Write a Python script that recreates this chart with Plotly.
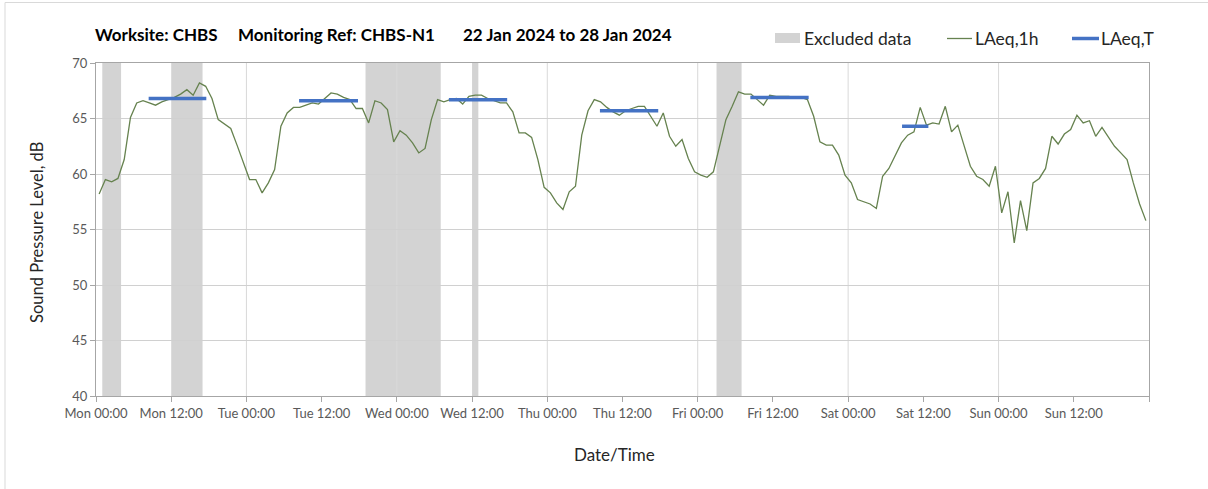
import pandas as pd
import plotly.graph_objects as go

# Hourly LAeq,1h values (dB), one per hour from Mon 22 Jan 2024 00:00
laeq_1h = [
    58.2, 59.5, 59.3, 59.6, 61.3, 65.1, 66.4, 66.6, 66.4, 66.2,
    66.5, 66.7, 66.9, 67.2, 67.6, 67.1, 68.2, 67.9, 66.8, 64.9,
    64.5, 64.1, 62.6, 61.0, 59.5, 59.5, 58.3, 59.2, 60.4, 64.3,
    65.5, 66.0, 66.0, 66.2, 66.4, 66.3, 66.8, 67.3, 67.2, 66.9,
    66.7, 65.9, 65.9, 64.6, 66.6, 66.4, 65.8, 62.9, 63.9, 63.5,
    62.8, 61.9, 62.3, 64.9, 66.7, 66.5, 66.7, 66.8, 66.3, 67.0,
    67.1, 67.1, 66.8, 66.6, 66.4, 66.4, 65.6, 63.7, 63.7, 63.3,
    61.3, 58.8, 58.3, 57.4, 56.8, 58.4, 58.9, 63.5, 65.7, 66.7,
    66.5, 66.0, 65.6, 65.3, 65.7, 65.9, 66.1, 66.1, 65.2, 64.3,
    65.5, 63.4, 62.5, 63.1, 61.4, 60.2, 59.9, 59.7, 60.2, 62.7,
    64.9, 66.1, 67.4, 67.2, 67.2, 66.7, 66.2, 67.1, 67.0, 67.0,
    67.0, 66.9, 66.9, 66.7, 65.2, 62.9, 62.6, 62.6, 61.7, 59.9,
    59.2, 57.7, 57.5, 57.3, 56.9, 59.8, 60.5, 61.7, 62.8, 63.5,
    63.8, 66.0, 64.4, 64.6, 64.5, 66.1, 63.8, 64.4, 62.5, 60.7,
    59.8, 59.5, 58.9, 60.7, 56.5, 58.4, 53.8, 57.6, 54.9, 59.2,
    59.6, 60.5, 63.4, 62.7, 63.6, 64.0, 65.3, 64.6, 64.8, 63.4,
    64.2, 63.4, 62.5, 61.9, 61.3, 59.2, 57.3, 55.8,
]
hour_mid = pd.date_range("2024-01-22 00:30", periods=len(laeq_1h), freq="h")

# Daytime LAeq,T periods
period_start = ["2024-01-22 08:24", "2024-01-23 08:24", "2024-01-24 08:18",
                "2024-01-25 08:24", "2024-01-26 08:24", "2024-01-27 08:36"]
period_end = ["2024-01-22 17:36", "2024-01-23 17:48", "2024-01-24 17:36",
              "2024-01-25 17:42", "2024-01-26 17:42", "2024-01-27 12:48"]
laeq_T = [66.8, 66.6, 66.7, 65.7, 66.9, 64.3]

# Excluded data windows
excl_start = ["2024-01-22 01:00", "2024-01-22 12:00", "2024-01-23 19:00",
              "2024-01-24 12:00", "2024-01-26 03:00"]
excl_end = ["2024-01-22 04:00", "2024-01-22 17:00", "2024-01-24 07:00",
            "2024-01-24 13:00", "2024-01-26 07:00"]

# Labelled ticks every 12 h (the closing Monday midnight is left unlabelled)
tick_times = pd.date_range("2024-01-22 00:00", "2024-01-28 12:00", freq="12h")
day_lines = ["2024-01-23", "2024-01-24", "2024-01-25", "2024-01-26",
             "2024-01-27", "2024-01-28"]

FONT = "Lato"
GREEN = "#66824f"
BLUE = "#4472c4"
GREY_BAND = "#d3d3d3"
TWELVE_H = 12 * 3600 * 1000

fig = go.Figure()

fig.add_trace(go.Scatter(
    x=hour_mid, y=laeq_1h, mode="lines", name="LAeq,1h",
    line=dict(color=GREEN, width=1.3), showlegend=False,
))

seg_x, seg_y = [], []
for s, e, v in zip(period_start, period_end, laeq_T):
    seg_x += [pd.Timestamp(s), pd.Timestamp(e), None]
    seg_y += [v, v, None]
fig.add_trace(go.Scatter(
    x=seg_x, y=seg_y, mode="lines", name="LAeq,T",
    line=dict(color=BLUE, width=3.5), showlegend=False,
))


def px_x(px):
    return (px - 96) / 1053


def px_y(py):
    return (396 - py) / 333


shapes = []
for s, e in zip(excl_start, excl_end):
    shapes.append(dict(type="rect", xref="x", yref="paper", x0=s, x1=e,
                       y0=0, y1=1, fillcolor=GREY_BAND, line=dict(width=0),
                       layer="below"))
for d in day_lines:
    shapes.append(dict(type="line", xref="x", yref="paper", x0=d, x1=d,
                       y0=0, y1=1, line=dict(color="#d9d9d9", width=1),
                       layer="below"))
# outer chart frame
shapes.append(dict(type="rect", xref="paper", yref="paper",
                   x0=px_x(5), x1=px_x(1240), y0=px_y(520), y1=px_y(2.5),
                   line=dict(color="#d9d9d9", width=1),
                   fillcolor="rgba(0,0,0,0)", layer="below"))

# legend keys
shapes.append(dict(type="rect", xref="paper", yref="paper",
                   x0=px_x(775), x1=px_x(800), y0=px_y(43), y1=px_y(33),
                   fillcolor=GREY_BAND, line=dict(width=0)))
shapes.append(dict(type="line", xref="paper", yref="paper",
                   x0=px_x(947), x1=px_x(972), y0=px_y(38.5), y1=px_y(38.5),
                   line=dict(color=GREEN, width=1.3)))
shapes.append(dict(type="line", xref="paper", yref="paper",
                   x0=px_x(1072), x1=px_x(1099), y0=px_y(38.5), y1=px_y(38.5),
                   line=dict(color=BLUE, width=3.5)))

annotations = []
legend_items = [("Excluded data", 803), ("LAeq,1h", 974), ("LAeq,T", 1100)]
for txt, x0 in legend_items:
    annotations.append(dict(
        text=txt, x=px_x(x0), y=px_y(38), xref="paper", yref="paper",
        xanchor="left", yanchor="middle", showarrow=False, borderpad=0,
        font=dict(family=FONT, size=17.5, color="#262626"),
    ))

title_parts = [("Worksite: CHBS", 94), ("Monitoring Ref: CHBS-N1", 237),
               ("22 Jan 2024 to 28 Jan 2024", 462)]
for txt, x0 in title_parts:
    annotations.append(dict(
        text=f"<b>{txt}</b>", x=px_x(x0), y=px_y(34), xref="paper", yref="paper",
        xanchor="left", yanchor="middle", showarrow=False, borderpad=0,
        font=dict(family=FONT, size=17, color="#000000"),
    ))
annotations.append(dict(
    text="Date/Time", x=px_x(614), y=px_y(454), xref="paper", yref="paper",
    xanchor="center", yanchor="middle", showarrow=False,
    font=dict(family=FONT, size=17, color="#262626"),
))
annotations.append(dict(
    text="Sound Pressure Level, dB", x=px_x(37), y=px_y(233), xref="paper",
    yref="paper", xanchor="center", yanchor="middle", showarrow=False,
    textangle=-90, font=dict(family=FONT, size=16.5, color="#262626"),
))

fig.update_layout(
    width=1208, height=489,
    margin=dict(l=96, r=59, t=63, b=93),
    paper_bgcolor="white", plot_bgcolor="white",
    font=dict(family=FONT, color="#595959"),
    shapes=shapes, annotations=annotations,
    showlegend=False,
    xaxis=dict(
        type="date", range=["2024-01-22", "2024-01-29"],
        tickmode="array", tickvals=list(tick_times), tickformat="%a %H:%M",
        ticks="outside", ticklen=5, tickcolor="#a6a6a6",
        minor=dict(ticks="outside", ticklen=5, tickcolor="#a6a6a6",
                   tick0="2024-01-22", dtick=TWELVE_H, showgrid=False),
        showgrid=False, showline=True, linecolor="#a6a6a6", mirror=True,
        zeroline=False, tickfont=dict(family=FONT, size=13, color="#595959"),
    ),
    yaxis=dict(
        range=[40, 70], dtick=5, ticks="outside", ticklen=5, tickcolor="#a6a6a6",
        showgrid=True, gridcolor="#d0d0d0", showline=True, linecolor="#a6a6a6",
        mirror=True, zeroline=False,
        tickfont=dict(family=FONT, size=13, color="#595959"),
    ),
)

fig.write_html("out.html")
